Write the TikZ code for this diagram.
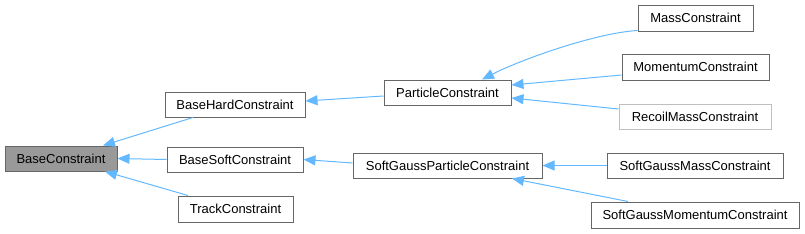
\documentclass[tikz,border=0pt]{standalone}
\usepackage{fontspec}
\setmainfont{Liberation Sans}
\usetikzlibrary{arrows.meta}
\definecolor{edgeblue}{HTML}{63B8FF}
\definecolor{boxgray}{HTML}{666666}
\definecolor{basefill}{HTML}{999999}
\definecolor{lightborder}{HTML}{BFBFBF}
\tikzset{
  cls/.style={draw=boxgray, line width=1pt, fill=white, inner sep=0pt, font=\fontsize{13}{15}\selectfont, text=black},
  edge/.style={draw=edgeblue, line width=1pt, {Triangle[length=12pt,width=10pt]}-}
}
\begin{document}
\begin{tikzpicture}[x=1pt,y=-1pt]
\useasboundingbox (0,0) rectangle (805,233);
\node[cls, fill=basefill, minimum width=112pt, minimum height=25pt] (base) at (61,158.5) {BaseConstraint};
\node[cls, minimum width=140pt, minimum height=25pt] (hard) at (235,104.5) {BaseHardConstraint};
\node[cls, minimum width=136pt, minimum height=25pt] (soft) at (235,159.5) {BaseSoftConstraint};
\node[cls, minimum width=115pt, minimum height=26pt] (track) at (235.5,209) {TrackConstraint};
\node[cls, minimum width=127pt, minimum height=25pt] (part) at (447.5,92.5) {ParticleConstraint};
\node[cls, minimum width=189pt, minimum height=25pt] (sgp) at (447.5,165.5) {SoftGaussParticleConstraint};
\node[cls, minimum width=115pt, minimum height=26pt] (mass) at (695.5,18) {MassConstraint};
\node[cls, minimum width=147pt, minimum height=26pt] (mom) at (695.5,67) {MomentumConstraint};
\node[cls, draw=lightborder, minimum width=152pt, minimum height=25pt] (recoil) at (695,116.5) {RecoilMassConstraint};
\node[cls, minimum width=176pt, minimum height=25pt] (sgmass) at (695,165.5) {SoftGaussMassConstraint};
\node[cls, minimum width=208pt, minimum height=26pt] (sgmom) at (695,215) {SoftGaussMomentumConstraint};

\draw[edge] ([xshift=42pt]base.north) -- ([xshift=-42pt]hard.south);
\draw[edge] (base.east) -- (soft.west);
\draw[edge] ([xshift=44pt]base.south) -- ([xshift=-47.5pt]track.north);
\draw[edge] ([yshift=3.5pt]hard.east) -- ([yshift=-3.5pt]part.west);
\draw[edge] (soft.east) -- ([yshift=2.5pt]sgp.west);
\draw[edge] ([xshift=34.5pt]part.north) .. controls (520,60) and (595,33) .. ([yshift=1pt]mass.south west);
\draw[edge] ([yshift=7.5pt]part.east) -- ([yshift=-8pt]mom.west);
\draw[edge] ([yshift=-5.5pt]part.east) -- ([yshift=7.5pt]recoil.west);
\draw[edge] (sgp.east) -- (sgmass.west);
\draw[edge] ([xshift=64.5pt]sgp.south) -- ([xshift=-67pt]sgmom.north);
\end{tikzpicture}
\end{document}
